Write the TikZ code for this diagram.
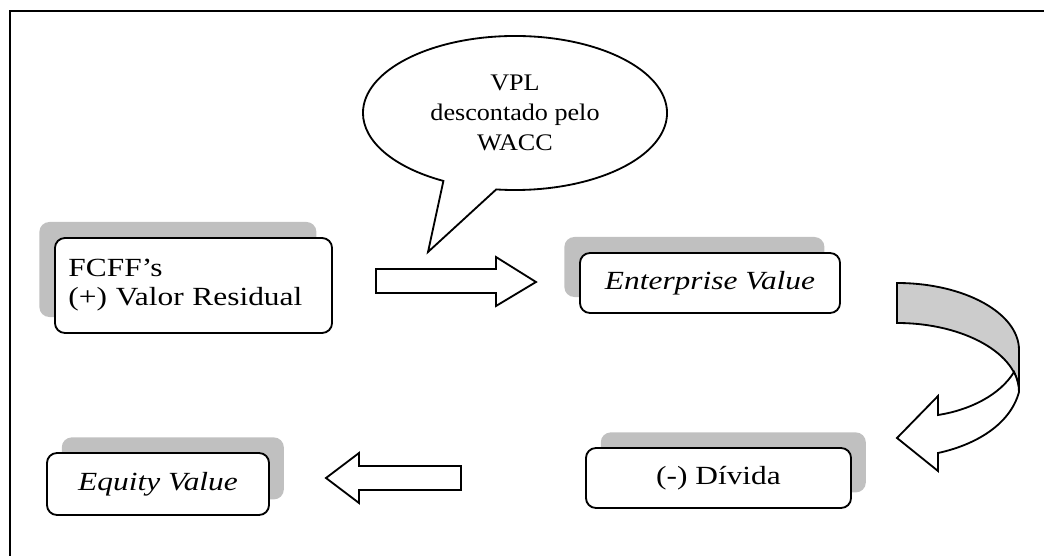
\documentclass[tikz,border=0pt]{standalone}
\usepackage{fontspec}
\setmainfont{Liberation Serif}[FakeStretch=1.2]
\newfontfamily\balloonfont{Liberation Serif}[FakeStretch=1.1]
\usetikzlibrary{shapes.callouts,shadows}
\definecolor{shadegray}{RGB}{192,192,192}
\definecolor{bandgray}{RGB}{204,204,204}
\tikzset{
  valuebox/.style={draw, fill=white, rounded corners=0.25cm, line width=1.3pt,
    font=\fontsize{18.6}{20.6}\selectfont, inner sep=0pt},
  shadeleft/.style={general shadow={fill=shadegray, shadow xshift=-0.39cm, shadow yshift=0.4cm}},
  shaderight/.style={general shadow={fill=shadegray, shadow xshift=0.37cm, shadow yshift=0.39cm}},
  blockarrow/.style={draw, fill=white, line width=1.3pt}
}
\begin{document}
\begin{tikzpicture}[x=0.025cm, y=-0.025cm]
\useasboundingbox (0,0) rectangle (1044,556);
\draw [line width=1.3pt] (10,556) -- (10,11) -- (1044,11);
\node [valuebox, shadeleft, minimum width=6.925cm, minimum height=2.375cm,
  text width=6.25cm, inner xsep=0.325cm, align=left] (fcff) at (193.5,285.5) {FCFF’s\\(+) Valor Residual};
\node [valuebox, shadeleft, minimum width=6.5cm, minimum height=1.5cm] (ev) at (710,283) {\itshape Enterprise Value};
\node [valuebox, shaderight, minimum width=6.625cm, minimum height=1.5cm] (divida) at (718.5,478) {(-) Dívida\hspace{0.45cm}};
\node [valuebox, shaderight, minimum width=5.55cm, minimum height=1.55cm] (equity) at (158,484) {\itshape Equity Value};
\node [ellipse callout, draw, fill=white, line width=1.3pt, minimum width=7.6cm, minimum height=3.85cm,
  callout absolute pointer={(428,252)}, callout pointer arc=21, align=center,
  font=\balloonfont\fontsize{16.9}{21.3}\selectfont] (vpl) at (515,113) {VPL\\descontado pelo\\WACC};
\draw [blockarrow] (376,269) -- (496,269) -- (496,257) -- (536,282) -- (496,306) -- (496,293) -- (376,293) -- cycle;
\draw [blockarrow] (461,466) -- (359,466) -- (359,453) -- (326,478) -- (359,503) -- (359,490) -- (461,490) -- cycle;
\filldraw [fill=bandgray, line width=1.3pt] (897,283) .. controls (964,283) and (1019,313) .. (1019,350)
  -- (1019,392) .. controls (1019,354) and (964,323) .. (897,323) -- cycle;
\filldraw [fill=white, line width=1.3pt] (1014,372) .. controls (1000,395) and (970,410) .. (938,415)
  -- (938,396) -- (897,438) -- (938,471) -- (938,453) .. controls (975,445) and (1010,425) .. (1019,392)
  .. controls (1019,385) and (1017,378) .. (1014,372) -- cycle;
\end{tikzpicture}
\end{document}
